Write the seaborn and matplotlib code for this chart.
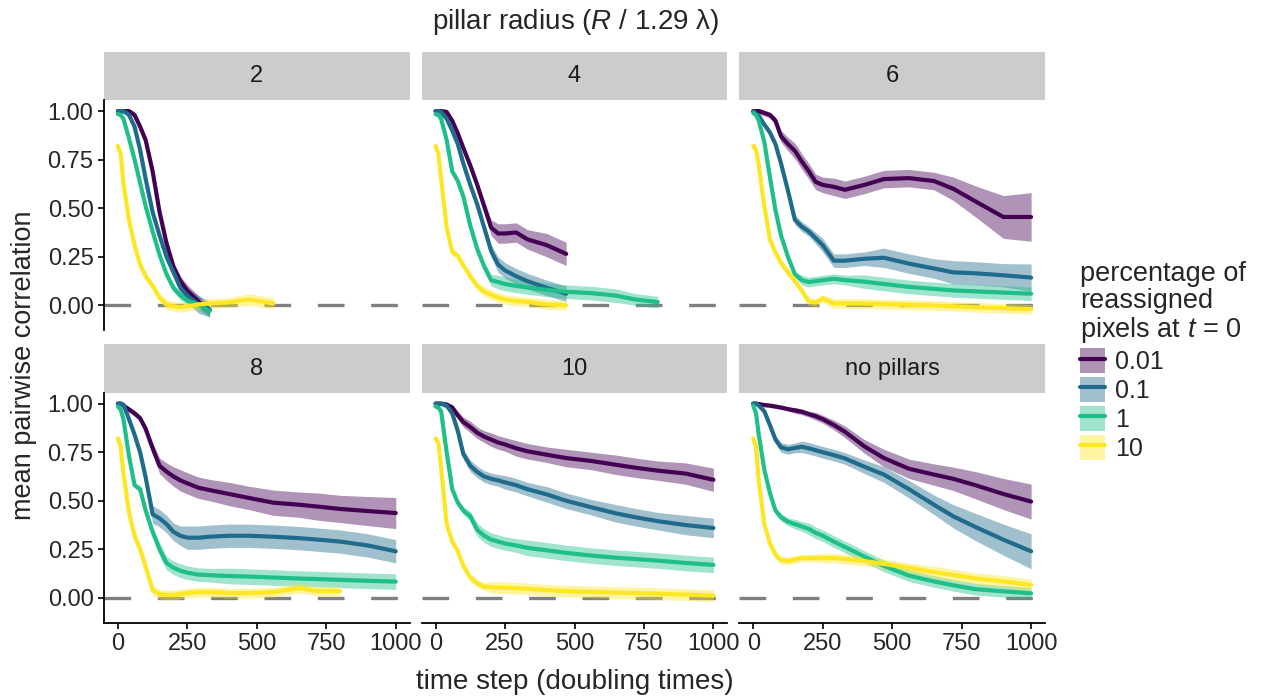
import numpy as np
import pandas as pd
import matplotlib.pyplot as plt
import seaborn as sns
from matplotlib.patches import Patch, Rectangle
from matplotlib.lines import Line2D

t_steps = [0, 10, 20, 40, 60, 80, 100, 125, 150, 175, 200, 225, 250, 290, 330,
           400, 470, 560, 650, 720, 800, 900, 1000]
pct_levels = ['0.01', '0.1', '1', '10']
pct_colors = ['#440154', '#1f6b8c', '#1fbf8a', '#fde725']
panel_names = ['2', '4', '6', '8', '10', 'no pillars']
N = None

# mean pairwise correlation, one row per percentage (None = run ended)
mean_r2 = [
    [1, 1, 1, 1, .98, .92, .85, .69, .48, .32, .20, .125, .075, .02, -.025, N, N, N, N, N, N, N, N],
    [1, 1, 1, .98, .92, .80, .65, .48, .36, .25, .17, .09, .05, .005, -.02, N, N, N, N, N, N, N, N],
    [.985, .98, .96, .86, .75, .63, .51, .38, .26, .16, .09, .05, .025, .005, -.03, N, N, N, N, N, N, N, N],
    [.82, .78, .63, .44, .31, .21, .15, .10, .04, .005, -.005, -.01, -.005, .005, .01, .015, .03, .01, N, N, N, N, N],
]
mean_r4 = [
    [1, 1, 1, .995, .95, .885, .81, .72, .62, .51, .40, .37, .37, .375, .34, .31, .265, N, N, N, N, N, N],
    [1, 1, .995, .96, .90, .83, .73, .62, .52, .40, .28, .21, .18, .15, .125, .09, .06, N, N, N, N, N, N],
    [.985, .98, .96, .85, .69, .64, .56, .41, .29, .20, .13, .12, .11, .10, .092, .08, .07, .063, .05, .03, .017, N, N],
    [.82, .78, .65, .40, .275, .255, .205, .15, .10, .07, .055, .04, .03, .022, .018, .005, 0.0, N, N, N, N, N, N],
]
mean_r6 = [
    [1, 1, 1, .99, .98, .95, .87, .83, .795, .74, .69, .635, .62, .61, .595, .62, .65, .655, .64, .60, .535, .455, .455],
    [1, .985, .975, .93, .89, .83, .73, .59, .44, .405, .38, .345, .31, .23, .23, .24, .245, .215, .19, .17, .165, .155, .143],
    [.99, .98, .95, .84, .66, .49, .36, .25, .16, .13, .12, .125, .13, .137, .13, .122, .11, .095, .085, .077, .072, .066, .06],
    [.82, .80, .72, .51, .34, .27, .22, .17, .125, .075, .02, .015, .035, .01, .01, .01, .007, .003, 0, -.005, -.01, -.015, -.02],
]
mean_r8 = [
    [1, 1, .99, .97, .95, .925, .87, .77, .68, .65, .625, .605, .59, .567, .555, .535, .515, .49, .48, .47, .458, .447, .437],
    [1, 1, .995, .92, .84, .75, .62, .43, .41, .38, .34, .32, .31, .31, .315, .32, .32, .315, .308, .30, .29, .27, .24],
    [.985, .97, .92, .73, .58, .56, .45, .34, .25, .18, .155, .14, .13, .12, .117, .113, .11, .105, .10, .097, .093, .088, .084],
    [.82, .78, .64, .44, .32, .25, .16, .04, .02, .015, .015, .02, .025, .03, .03, .025, .025, .03, .05, .035, .035, N, N],
]
mean_r10 = [
    [1, 1, 1, .995, .98, .94, .905, .88, .85, .83, .815, .80, .79, .77, .755, .737, .72, .705, .685, .67, .655, .64, .608],
    [1, 1, 1, .99, .95, .86, .74, .68, .648, .625, .613, .605, .595, .58, .56, .533, .50, .467, .435, .415, .395, .375, .36],
    [.985, .98, .96, .75, .56, .49, .45, .42, .35, .32, .30, .29, .28, .27, .258, .245, .232, .218, .207, .20, .192, .18, .17],
    [.82, .80, .67, .38, .29, .24, .165, .105, .075, .058, .055, .053, .052, .05, .047, .04, .035, .031, .028, .025, .022, .017, .012],
]
mean_none = [
    [1, 1, .998, .993, .99, .985, .98, .972, .965, .958, .946, .935, .92, .89, .855, .78, .72, .665, .635, .613, .58, .535, .496],
    [1, 1, .99, .96, .89, .815, .775, .765, .772, .778, .77, .76, .75, .735, .718, .675, .635, .56, .48, .42, .365, .30, .24],
    [.99, .95, .84, .66, .54, .45, .415, .392, .38, .368, .355, .335, .32, .29, .262, .213, .165, .115, .085, .065, .045, .034, .024],
    [.82, .78, .60, .38, .28, .222, .195, .19, .198, .205, .205, .205, .205, .205, .20, .19, .175, .155, .133, .118, .10, .085, .067],
]

# half width of the shaded band
band_r2 = [
    [.01, .01, .01, .01, .015, .015, .015, .015, .015, .02, .02, .025, .03, .03, .03, .03, .03, .03, .03, .03, .03, .03, .03],
    [.01, .01, .01, .01, .015, .015, .015, .015, .015, .02, .02, .03, .04, .045, .04, .04, .04, .04, .04, .04, .04, .04, .04],
    [.01, .01, .01, .015, .015, .015, .015, .015, .015, .015, .02, .02, .025, .03, .03, .03, .03, .03, .03, .03, .03, .03, .03],
    [.02, .02, .02, .02, .02, .02, .02, .02, .02, .025, .025, .025, .025, .025, .025, .025, .03, .03, .03, .03, .03, .03, .03],
]
band_r4 = [
    [.01, .01, .01, .015, .015, .015, .015, .015, .02, .03, .04, .05, .05, .05, .05, .06, .06, .06, .06, .06, .06, .06, .06],
    [.01, .01, .01, .015, .015, .015, .015, .015, .02, .025, .03, .04, .04, .04, .04, .04, .04, .04, .04, .04, .04, .04, .04],
    [.01, .01, .015, .015, .015, .015, .02, .02, .02, .025, .03, .035, .035, .035, .035, .035, .035, .035, .035, .03, .03, .03, .03],
    [.02, .02, .02, .02, .02, .02, .02, .02, .02, .025, .025, .025, .025, .025, .025, .025, .025, .025, .025, .025, .025, .025, .025],
]
band_r6 = [
    [.01, .01, .015, .015, .015, .02, .03, .035, .04, .04, .04, .04, .04, .045, .045, .045, .045, .045, .045, .06, .08, .11, .125],
    [.01, .01, .015, .015, .015, .015, .025, .025, .025, .025, .025, .03, .035, .035, .035, .035, .05, .05, .05, .06, .06, .06, .07],
    [.01, .01, .015, .015, .015, .015, .015, .015, .015, .025, .025, .025, .025, .025, .025, .035, .035, .035, .035, .035, .035, .035, .035],
    [.02, .02, .02, .02, .02, .02, .02, .02, .02, .02, .02, .02, .02, .025, .025, .025, .025, .025, .025, .025, .025, .025, .025],
]
band_r8 = [
    [.01, .01, .01, .015, .015, .015, .015, .03, .04, .045, .05, .055, .055, .055, .055, .06, .06, .065, .065, .07, .07, .075, .08],
    [.01, .01, .01, .015, .015, .015, .02, .045, .045, .045, .045, .05, .06, .06, .06, .06, .06, .06, .06, .06, .06, .06, .06],
    [.01, .01, .015, .015, .015, .015, .02, .025, .035, .035, .035, .035, .035, .035, .035, .04, .04, .04, .04, .04, .04, .04, .04],
    [.025, .025, .025, .025, .025, .025, .025, .025, .025, .025, .025, .025, .025, .025, .025, .025, .025, .025, .025, .025, .025, .025, .025],
]
band_r10 = [
    [.01, .01, .01, .015, .015, .02, .025, .03, .03, .03, .035, .035, .035, .04, .04, .04, .045, .045, .05, .05, .05, .055, .06],
    [.01, .01, .01, .015, .015, .02, .025, .03, .03, .03, .03, .03, .035, .035, .035, .04, .04, .04, .045, .045, .045, .05, .05],
    [.01, .01, .015, .015, .02, .02, .02, .025, .035, .035, .035, .035, .035, .035, .04, .04, .04, .04, .04, .04, .04, .04, .04],
    [.02, .02, .02, .02, .02, .02, .02, .02, .02, .02, .03, .03, .03, .03, .03, .03, .03, .03, .03, .03, .03, .03, .03],
]
band_none = [
    [.01, .01, .01, .01, .01, .01, .01, .01, .015, .015, .015, .02, .02, .025, .03, .035, .045, .05, .055, .06, .07, .08, .09],
    [.01, .01, .01, .015, .015, .02, .025, .025, .025, .03, .03, .03, .03, .03, .03, .035, .04, .045, .05, .06, .07, .08, .09],
    [.01, .01, .015, .015, .015, .015, .02, .02, .025, .025, .03, .03, .03, .03, .03, .03, .03, .03, .03, .03, .03, .03, .03],
    [.02, .02, .02, .02, .02, .02, .02, .02, .02, .02, .02, .02, .025, .025, .025, .025, .025, .025, .03, .03, .03, .03, .03],
]

all_means = [mean_r2, mean_r4, mean_r6, mean_r8, mean_r10, mean_none]
all_bands = [band_r2, band_r4, band_r6, band_r8, band_r10, band_none]

# long table
rows = []
for name, means, bands in zip(panel_names, all_means, all_bands):
    for pct, m, b in zip(pct_levels, means, bands):
        for t, mv, bv in zip(t_steps, m, b):
            if mv is None:
                continue
            rows.append((name, pct, t, mv, bv))
df = pd.DataFrame(rows, columns=['panel', 'pct', 't', 'corr', 'half'])
df['lo'] = df['corr'] - df['half']
df['hi'] = df['corr'] + df['half']

sns.set_style('ticks')
plt.rcParams['font.family'] = ['Liberation Sans', 'DejaVu Sans']
plt.rcParams['mathtext.fontset'] = 'custom'
plt.rcParams['mathtext.rm'] = 'Liberation Sans'
plt.rcParams['mathtext.it'] = 'Liberation Sans:italic'

W, H = 1261, 698
fig, axes = plt.subplots(2, 3, figsize=(W / 100, H / 100), dpi=100, sharex=True, sharey=True)
fig.subplots_adjust(left=104 / W, right=1045 / W, top=1 - 100 / H, bottom=1 - 623 / H,
                    wspace=12 / 305, hspace=62 / 230)

palette = dict(zip(pct_levels, pct_colors))

for i, (ax, name) in enumerate(zip(axes.flat, panel_names)):
    sub = df[df['panel'] == name]
    ax.axhline(0, color='#808080', lw=2.4, ls=(0, (8, 8)), zorder=1)
    for pct in pct_levels:
        s = sub[sub['pct'] == pct]
        ax.fill_between(s['t'], s['lo'], s['hi'], color=palette[pct], alpha=0.42, lw=0, zorder=2)
    sns.lineplot(data=sub, x='t', y='corr', hue='pct', hue_order=pct_levels, palette=palette,
                 estimator=None, linewidth=3, legend=False, ax=ax, zorder=3)
    ax.set_xlim(-50, 1050)
    ax.set_ylim(-0.129, 1.057)
    ax.set_xticks([0, 250, 500, 750, 1000])
    ax.set_yticks([0, 0.25, 0.5, 0.75, 1.0])
    ax.set_yticklabels(['0.00', '0.25', '0.50', '0.75', '1.00'])
    ax.set_xlabel('')
    ax.set_ylabel('')
    row, col = divmod(i, 3)
    sns.despine(ax=ax, left=(col > 0), bottom=(row == 0))
    ax.tick_params(axis='both', labelsize=17, length=4.5, width=1.2, color='black', pad=3)
    if row == 0:
        ax.tick_params(axis='x', bottom=False, labelbottom=False)
    if col > 0:
        ax.tick_params(axis='y', left=False, labelleft=False)
    for sp in ax.spines.values():
        sp.set_linewidth(1.3)
        sp.set_color('black')
    # facet strip
    ax.add_patch(Rectangle((0, 1), 1, 48 / 230, transform=ax.transAxes, clip_on=False,
                           facecolor='#cccccc', edgecolor='none'))
    ax.text(0.5, 1 + 24 / 230, name, transform=ax.transAxes, ha='center', va='center',
            fontsize=17, color='#1a1a1a')

fig.text(576 / W, 1 - 22 / H, r'pillar radius ($\mathit{R}$ / 1.29 λ)', ha='center', va='center',
         fontsize=20)
fig.text(575 / W, 1 - 682 / H, 'time step (doubling times)', ha='center', va='center', fontsize=20)
fig.text(24 / W, 1 - 365 / H, 'mean pairwise correlation', ha='center', va='center',
         rotation=90, fontsize=19.5)

handles = []
for pct in pct_levels:
    handles.append((Patch(facecolor=palette[pct], alpha=0.42, edgecolor='none'),
                    Line2D([], [], color=palette[pct], lw=3)))
leg = fig.legend(handles, pct_levels, title='percentage of\nreassigned\npixels at $t$ = 0',
                 loc='upper left', bbox_to_anchor=(1080 / W, 1 - 261 / H), frameon=False,
                 fontsize=18, title_fontsize=19.5, alignment='left', handlelength=1.0,
                 handleheight=1.15, handletextpad=0.4, labelspacing=0.12, borderpad=0,
                 borderaxespad=0)
leg.get_title().set_linespacing(1.05)

fig.savefig('out.png', dpi=100)
